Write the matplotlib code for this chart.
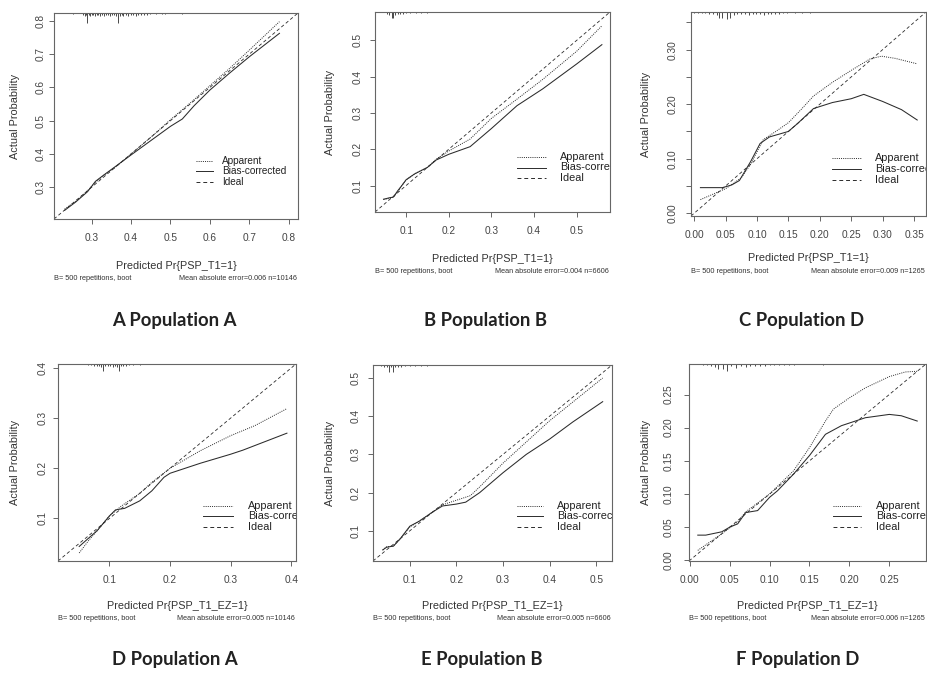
import matplotlib
matplotlib.use("Agg")
import matplotlib.pyplot as plt
from matplotlib.lines import Line2D
from matplotlib.transforms import blended_transform_factory

# calibration curves: (predicted, actual)
a_app_x = [0.232, 0.26, 0.29, 0.31, 0.33, 0.36, 0.40, 0.45, 0.50, 0.55, 0.60, 0.65, 0.70, 0.776]
a_app_y = [0.235, 0.258, 0.290, 0.315, 0.335, 0.360, 0.400, 0.450, 0.503, 0.553, 0.605, 0.657, 0.712, 0.797]
a_bc_x = [0.232, 0.26, 0.29, 0.31, 0.33, 0.36, 0.40, 0.45, 0.50, 0.53, 0.56, 0.60, 0.65, 0.70, 0.776]
a_bc_y = [0.231, 0.256, 0.287, 0.318, 0.336, 0.362, 0.397, 0.440, 0.483, 0.505, 0.545, 0.592, 0.643, 0.692, 0.762]

b_app_x = [0.047, 0.06, 0.07, 0.08, 0.09, 0.10, 0.12, 0.15, 0.17, 0.20, 0.25, 0.30, 0.36, 0.42, 0.50, 0.559]
b_app_y = [0.062, 0.064, 0.068, 0.082, 0.100, 0.115, 0.132, 0.150, 0.172, 0.195, 0.228, 0.285, 0.338, 0.392, 0.470, 0.540]
b_bc_x = [0.047, 0.06, 0.07, 0.08, 0.09, 0.10, 0.12, 0.15, 0.17, 0.20, 0.25, 0.30, 0.36, 0.42, 0.50, 0.559]
b_bc_y = [0.062, 0.066, 0.068, 0.085, 0.100, 0.116, 0.132, 0.150, 0.170, 0.186, 0.207, 0.257, 0.320, 0.366, 0.435, 0.488]

c_app_x = [0.010, 0.030, 0.050, 0.075, 0.090, 0.110, 0.130, 0.150, 0.170, 0.190, 0.220, 0.250, 0.280, 0.298, 0.320, 0.355]
c_app_y = [0.025, 0.035, 0.045, 0.065, 0.090, 0.135, 0.150, 0.166, 0.190, 0.215, 0.240, 0.262, 0.283, 0.288, 0.284, 0.274]
c_bc_x = [0.010, 0.030, 0.045, 0.060, 0.072, 0.090, 0.105, 0.120, 0.150, 0.165, 0.190, 0.220, 0.250, 0.270, 0.300, 0.330, 0.355]
c_bc_y = [0.047, 0.047, 0.047, 0.052, 0.060, 0.095, 0.128, 0.140, 0.150, 0.165, 0.192, 0.203, 0.210, 0.218, 0.205, 0.190, 0.171]

d_app_x = [0.050, 0.065, 0.080, 0.100, 0.120, 0.150, 0.170, 0.200, 0.250, 0.300, 0.340, 0.393]
d_app_y = [0.031, 0.055, 0.076, 0.105, 0.125, 0.150, 0.172, 0.200, 0.235, 0.265, 0.285, 0.319]
d_bc_x = [0.050, 0.065, 0.080, 0.100, 0.110, 0.125, 0.150, 0.170, 0.190, 0.200, 0.250, 0.300, 0.320, 0.393]
d_bc_y = [0.044, 0.060, 0.076, 0.105, 0.117, 0.120, 0.135, 0.155, 0.182, 0.190, 0.210, 0.228, 0.236, 0.270]

e_app_x = [0.042, 0.050, 0.065, 0.080, 0.100, 0.120, 0.150, 0.170, 0.200, 0.230, 0.250, 0.300, 0.400, 0.514]
e_app_y = [0.050, 0.058, 0.060, 0.080, 0.110, 0.125, 0.150, 0.168, 0.180, 0.192, 0.215, 0.277, 0.388, 0.500]
e_bc_x = [0.042, 0.050, 0.065, 0.080, 0.100, 0.120, 0.150, 0.170, 0.200, 0.220, 0.250, 0.300, 0.350, 0.400, 0.450, 0.514]
e_bc_y = [0.050, 0.057, 0.060, 0.080, 0.112, 0.125, 0.150, 0.165, 0.170, 0.175, 0.200, 0.252, 0.300, 0.340, 0.385, 0.438]

f_app_x = [0.010, 0.040, 0.060, 0.070, 0.100, 0.130, 0.150, 0.170, 0.180, 0.200, 0.220, 0.250, 0.270, 0.285]
f_app_y = [0.015, 0.040, 0.058, 0.073, 0.100, 0.135, 0.170, 0.210, 0.228, 0.245, 0.260, 0.277, 0.284, 0.285]
f_bc_x = [0.010, 0.020, 0.040, 0.050, 0.060, 0.070, 0.085, 0.100, 0.110, 0.130, 0.150, 0.170, 0.190, 0.220, 0.250, 0.265, 0.285]
f_bc_y = [0.038, 0.038, 0.043, 0.050, 0.055, 0.072, 0.075, 0.095, 0.105, 0.130, 0.158, 0.190, 0.203, 0.215, 0.220, 0.218, 0.210]

# rug of predicted values along the top (x, length in px)
a_rug_x = [0.253, 0.279, 0.283, 0.286, 0.289, 0.293, 0.297, 0.301, 0.305, 0.309, 0.313, 0.317, 0.321, 0.326,
           0.331, 0.336, 0.341, 0.346, 0.351, 0.356, 0.361, 0.366, 0.371, 0.376, 0.381, 0.387, 0.393, 0.399,
           0.405, 0.412, 0.419, 0.426, 0.433, 0.440, 0.448, 0.463, 0.478, 0.486, 0.528]
a_rug_len = [1, 2, 3, 2, 10, 2, 3, 2, 2, 3, 2, 2, 3, 2,
             3, 2, 2, 3, 2, 2, 3, 10, 3, 2, 3, 2, 3, 2,
             2, 3, 2, 2, 2, 2, 1, 1, 1, 1, 1]
b_rug_x = [0.055, 0.060, 0.066, 0.070, 0.075, 0.080, 0.086, 0.092, 0.100, 0.110, 0.122, 0.135, 0.149]
b_rug_len = [2, 3, 6, 6, 3, 2, 2, 2, 1, 1, 1, 1, 1]
c_rug_x = [0.0, 0.006, 0.012, 0.018, 0.024, 0.030, 0.036, 0.040, 0.045, 0.052, 0.057, 0.063, 0.069, 0.075,
           0.081, 0.087, 0.093, 0.099, 0.105, 0.111, 0.117, 0.123, 0.129, 0.135, 0.141, 0.147, 0.160, 0.172, 0.184]
c_rug_len = [1, 1, 1, 1, 2, 2, 3, 6, 6, 7, 6, 3, 2, 2,
             2, 3, 2, 2, 2, 3, 2, 2, 2, 2, 1, 1, 1, 1, 1]
d_rug_x = [0.064, 0.069, 0.074, 0.079, 0.083, 0.086, 0.089, 0.093, 0.097, 0.101, 0.105, 0.109, 0.112,
           0.115, 0.119, 0.123, 0.128, 0.133, 0.139, 0.150]
d_rug_len = [1, 1, 2, 2, 2, 3, 7, 2, 2, 2, 3, 2, 3, 7, 2, 2, 2, 1, 1, 1]
e_rug_x = [0.039, 0.045, 0.050, 0.055, 0.060, 0.064, 0.069, 0.075, 0.082, 0.090, 0.100, 0.112, 0.124, 0.136]
e_rug_len = [1, 2, 2, 7, 2, 7, 2, 2, 2, 1, 1, 1, 1, 1]
f_rug_x = [0.016, 0.022, 0.027, 0.031, 0.035, 0.041, 0.047, 0.052, 0.058, 0.064, 0.070, 0.076, 0.082,
           0.088, 0.094, 0.100, 0.106, 0.112, 0.118, 0.124, 0.131, 0.167]
f_rug_len = [1, 1, 2, 3, 5, 5, 7, 2, 4, 2, 3, 2, 2, 2, 2, 1, 1, 1, 1, 1, 1, 1]

titles = ["A Population A", "B Population B", "C Population D",
          "D Population A", "E Population B", "F Population D"]
xlabels = ["Predicted Pr{PSP_T1=1}"] * 3 + ["Predicted Pr{PSP_T1_EZ=1}"] * 3
errors = ["Mean absolute error=0.006 n=10146", "Mean absolute error=0.004 n=6606",
          "Mean absolute error=0.009 n=1265", "Mean absolute error=0.005 n=10146",
          "Mean absolute error=0.005 n=6606", "Mean absolute error=0.006 n=1265"]
limits = [(0.205, 0.823), (0.027, 0.578), (-0.005, 0.369),
          (0.015, 0.408), (0.021, 0.534), (-0.001, 0.296)]
xticks = [[0.3, 0.4, 0.5, 0.6, 0.7, 0.8], [0.1, 0.2, 0.3, 0.4, 0.5],
          [0.0, 0.05, 0.10, 0.15, 0.20, 0.25, 0.30, 0.35], [0.1, 0.2, 0.3, 0.4],
          [0.1, 0.2, 0.3, 0.4, 0.5], [0.0, 0.05, 0.10, 0.15, 0.20, 0.25]]
yticks = [[0.3, 0.4, 0.5, 0.6, 0.7, 0.8], [0.1, 0.2, 0.3, 0.4, 0.5],
          [0.0, 0.05, 0.10, 0.15, 0.20, 0.25, 0.30, 0.35], [0.1, 0.2, 0.3, 0.4],
          [0.1, 0.2, 0.3, 0.4, 0.5], [0.0, 0.05, 0.10, 0.15, 0.20, 0.25]]
xticklabels = [["0.3", "0.4", "0.5", "0.6", "0.7", "0.8"], ["0.1", "0.2", "0.3", "0.4", "0.5"],
               ["0.00", "0.05", "0.10", "0.15", "0.20", "0.25", "0.30", "0.35"], ["0.1", "0.2", "0.3", "0.4"],
               ["0.1", "0.2", "0.3", "0.4", "0.5"], ["0.00", "0.05", "0.10", "0.15", "0.20", "0.25"]]
yticklabels = [["0.3", "0.4", "0.5", "0.6", "0.7", "0.8"], ["0.1", "0.2", "0.3", "0.4", "0.5"],
               ["0.00", "", "0.10", "", "0.20", "", "0.30", ""], ["0.1", "0.2", "0.3", "0.4"],
               ["0.1", "0.2", "0.3", "0.4", "0.5"], ["0.00", "0.05", "0.10", "0.15", "0.20", "0.25"]]
legend_labels = ["Apparent", "Bias-corrected", "Ideal"]

curves = [(a_app_x, a_app_y, a_bc_x, a_bc_y), (b_app_x, b_app_y, b_bc_x, b_bc_y),
          (c_app_x, c_app_y, c_bc_x, c_bc_y), (d_app_x, d_app_y, d_bc_x, d_bc_y),
          (e_app_x, e_app_y, e_bc_x, e_bc_y), (f_app_x, f_app_y, f_bc_x, f_bc_y)]
rugs = [(a_rug_x, a_rug_len), (b_rug_x, b_rug_len), (c_rug_x, c_rug_len),
        (d_rug_x, d_rug_len), (e_rug_x, e_rug_len), (f_rug_x, f_rug_len)]

# layout in pixels
W, H = 928, 674
boxes = [(54, 13, 298, 219), (375, 12, 610, 212), (691, 12, 926, 216),
         (58, 364, 296, 561), (373, 365, 612, 561), (689, 364, 926, 561)]
ylab_x = [15, 330, 646, 15, 330, 646]
ytick_pad = [2.6, 5.4, 6.2, 4.2, 5.4, 7.2]
xlab_y = [266, 259, 258, 606, 606, 606]
foot_y = [279, 272, 271, 619, 619, 619]
title_pos = [(174, 326), (485, 326), (802, 326), (175, 665), (482, 665), (798, 665)]
leg_pos = [(196, 213, 222, 161), (517, 546, 560, 157), (832, 861, 875, 158),
           (203, 233, 248, 506), (517, 543, 557, 506), (833, 861, 876, 506)]
leg_step = [10.3, 10.5, 10.8, 10.3, 10.3, 10.3]
leg_size = [7.2, 7.8, 7.8, 7.8, 7.8, 7.8]

FRAME = "#666666"
INK = "#2b2b2b"
styles = [(0, (1, 1.2)), "-", (0, (4, 3))]

fig = plt.figure(figsize=(W / 100, H / 100), dpi=100)
plt.rcParams['font.family'] = ['Liberation Sans', 'DejaVu Sans']


def fx(x):
    return x / W


def fy(y):
    return 1 - y / H


for i in range(6):
    l, t, r, b = boxes[i]
    ax = fig.add_axes([fx(l), fy(b), (r - l) / W, (b - t) / H])
    lo, hi = limits[i]
    ax.set_xlim(lo, hi)
    ax.set_ylim(lo, hi)
    app_x, app_y, bc_x, bc_y = curves[i]
    ax.plot([lo, hi], [lo, hi], color=INK, lw=0.6, ls=styles[2])
    ax.plot(app_x, app_y, color=INK, lw=0.7, ls=styles[0])
    ax.plot(bc_x, bc_y, color=INK, lw=0.75, ls=styles[1])

    # rug along the top edge
    rx, rl = rugs[i]
    trans = blended_transform_factory(ax.transData, ax.transAxes)
    ax.vlines(rx, [1 - v / (b - t) for v in rl], 1, transform=trans, color=INK, lw=0.6)

    for s in ax.spines.values():
        s.set_color(FRAME)
        s.set_linewidth(0.8)
    ax.set_xticks(xticks[i], xticklabels[i])
    ax.set_yticks(yticks[i], yticklabels[i])
    ax.tick_params(axis='both', length=3.6, width=0.7, color=FRAME, labelsize=7.3, labelcolor="#444444")
    ax.tick_params(axis='x', pad=6.5)
    ax.tick_params(axis='y', pad=ytick_pad[i])
    for lbl in ax.get_yticklabels():
        lbl.set_rotation(90)
        lbl.set_va('center')

    # legend, clipped at the plot edge like the cropped original
    x0, x1, xt, y0 = leg_pos[i]
    for k in range(3):
        yy = y0 + k * leg_step[i]
        ax.add_line(Line2D([fx(x0), fx(x1)], [fy(yy), fy(yy)], transform=fig.transFigure,
                           color=INK, lw=0.7, ls=styles[k]))
        ax.text(fx(xt), fy(yy), legend_labels[k], transform=fig.transFigure, fontsize=leg_size[i],
                color="#222222", va='center', ha='left', clip_on=True)

    fig.text(fx((l + r) / 2), fy(xlab_y[i]), xlabels[i], fontsize=7.8, color="#333333",
             ha='center', va='center')
    fig.text(fx(ylab_x[i]), fy((t + b) / 2), "Actual Probability", fontsize=7.8, color="#333333",
             rotation=90, ha='center', va='center')
    fig.text(fx(l), fy(foot_y[i]), "B= 500 repetitions, boot", fontsize=5.3, color="#333333",
             ha='left', va='center')
    fig.text(fx(r - 1), fy(foot_y[i]), errors[i], fontsize=5.2, color="#333333",
             ha='right', va='center')
    tx, ty = title_pos[i]
    fig.text(fx(tx), fy(ty), titles[i], fontsize=13.3, fontweight='bold', color="#222222",
             family=['Lato', 'DejaVu Sans'], ha='center', va='baseline')

fig.savefig("out.png", dpi=100, facecolor='white')
